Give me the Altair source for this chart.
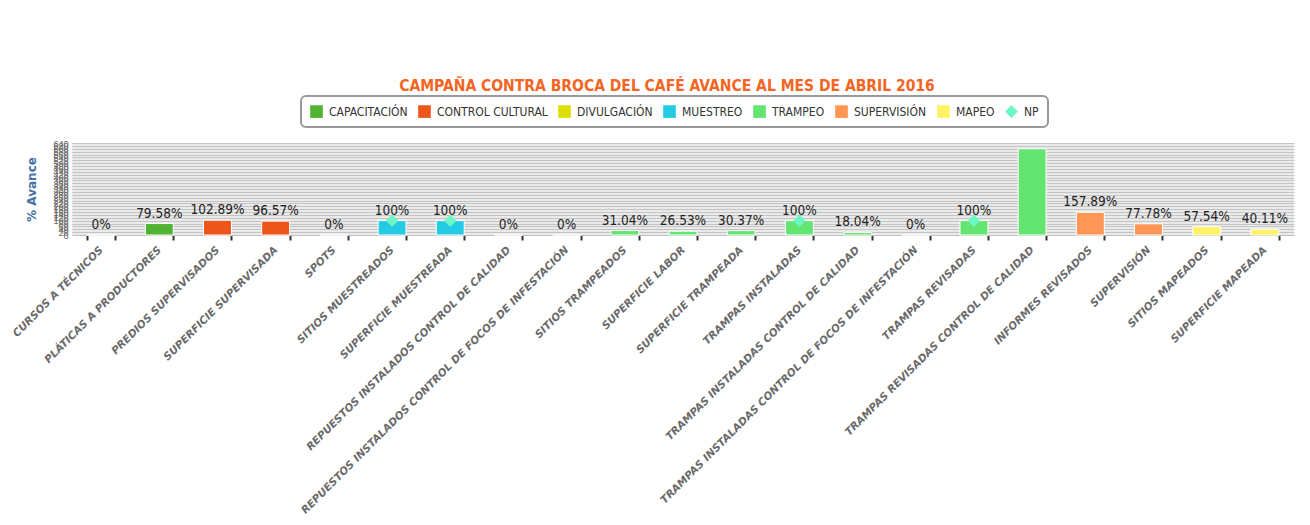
import altair as alt
import pandas as pd

categories = [
    "CURSOS A TÉCNICOS", "PLÁTICAS A PRODUCTORES", "PREDIOS SUPERVISADOS",
    "SUPERFICIE SUPERVISADA", "SPOTS", "SITIOS MUESTREADOS", "SUPERFICIE MUESTREADA",
    "REPUESTOS INSTALADOS CONTROL DE CALIDAD",
    "REPUESTOS INSTALADOS CONTROL DE FOCOS DE INFESTACIÓN",
    "SITIOS TRAMPEADOS", "SUPERFICIE LABOR", "SUPERFICIE TRAMPEADA",
    "TRAMPAS INSTALADAS", "TRAMPAS INSTALADAS CONTROL DE CALIDAD",
    "TRAMPAS INSTALADAS CONTROL DE FOCOS DE INFESTACIÓN", "TRAMPAS REVISADAS",
    "TRAMPAS REVISADAS CONTROL DE CALIDAD", "INFORMES REVISADOS", "SUPERVISIÓN",
    "SITIOS MAPEADOS", "SUPERFICIE MAPEADA",
]
series = [
    "CAPACITACIÓN", "CAPACITACIÓN", "CONTROL CULTURAL", "CONTROL CULTURAL",
    "DIVULGACIÓN", "MUESTREO", "MUESTREO", "TRAMPEO", "TRAMPEO", "TRAMPEO",
    "TRAMPEO", "TRAMPEO", "TRAMPEO", "TRAMPEO", "TRAMPEO", "TRAMPEO", "TRAMPEO",
    "SUPERVISIÓN", "SUPERVISIÓN", "MAPEO", "MAPEO",
]
values = [0, 79.58, 102.89, 96.57, 0, 100, 100, 0, 0, 31.04, 26.53, 30.37,
          100, 18.04, 0, 100, 600, 157.89, 77.78, 57.54, 40.11]
np_values = [None, None, None, None, None, 100, 100, None, None, None, None,
             None, 100, None, None, 100, None, None, None, None, None]

series_names = ["CAPACITACIÓN", "CONTROL CULTURAL", "DIVULGACIÓN", "MUESTREO",
                "TRAMPEO", "SUPERVISIÓN", "MAPEO", "NP"]
series_colors = ["#50B432", "#ED561B", "#DDDF00", "#24CBE5", "#64E572",
                 "#FF9655", "#FFF263", "#6AF9C4"]
series_shapes = ["square"] * 7 + ["diamond"]
y_ticks = list(range(0, 641, 20))


def fmt(v):
    if v > 500:
        return ""
    s = f"{v:.2f}".rstrip("0").rstrip(".")
    return s + "%"


df = pd.DataFrame({"cat": categories, "serie": series, "value": values,
                   "lbl": [fmt(v) for v in values]})
df_np = pd.DataFrame({"cat": categories, "np": np_values})
df_np = df_np.dropna()
df_np["serie"] = "NP"

FONT = "'Liberation Sans Narrow', 'DejaVu Sans Condensed', Roboto, sans-serif"

xaxis = alt.Axis(labelAngle=-45, labelAlign="right", labelBaseline="middle",
                 labelFont="DejaVu Sans", labelFontSize=10.5,
                 labelFontWeight="bold", labelFontStyle="italic",
                 labelColor="#6a6a6a", labelPadding=8, labelLimit=400,
                 tickBand="extent", tickColor="#333333", tickWidth=2,
                 tickSize=5, domainColor="#c0c0c0", grid=False)
xscale = alt.Scale(paddingInner=0.52, paddingOuter=0.26)

yaxis = alt.Axis(values=y_ticks, labelOverlap=False, labelFontSize=9,
                 labelColor="#666666", ticks=False, domain=False,
                 labelPadding=4, gridColor="#c4c4c4", gridWidth=1,
                 titleFont="DejaVu Sans", titleFontSize=12,
                 titleFontWeight="bold", titleColor="#4572A7",
                 titlePadding=14)
yscale = alt.Scale(domain=[0, 640], nice=False)

color = alt.Color("serie:N", title=None,
                  scale=alt.Scale(domain=series_names, range=series_colors),
                  legend=alt.Legend(orient="none", direction="horizontal",
                                    legendX=229, legendY=-47,
                                    labelFont=FONT, labelFontSize=12,
                                    labelColor="#333333", symbolSize=160,
                                    symbolStrokeWidth=0, columnPadding=10,
                                    symbolOffset=0, labelOffset=6,
                                    strokeColor="#999999",
                                    cornerRadius=5, padding=9, columns=8))

bars = alt.Chart(df).mark_bar(stroke="white", strokeWidth=1).encode(
    x=alt.X("cat:N", sort=categories, title=None, scale=xscale, axis=xaxis),
    y=alt.Y("value:Q", title="% Avance", scale=yscale, axis=yaxis),
    color=color,
)

labels = alt.Chart(df).mark_text(font=FONT, fontSize=13.5, color="#222222",
                                 baseline="bottom", dy=-3).encode(
    x=alt.X("cat:N", sort=categories, title=None, scale=xscale, axis=xaxis),
    y=alt.Y("value:Q", title="% Avance", scale=yscale, axis=yaxis),
    text="lbl:N",
)

points = alt.Chart(df_np).mark_point(filled=True, opacity=1, size=150).encode(
    x=alt.X("cat:N", sort=categories, title=None, scale=xscale, axis=xaxis),
    y=alt.Y("np:Q", title="% Avance", scale=yscale, axis=yaxis),
    color=alt.Color("serie:N"),
    shape=alt.Shape("serie:N", scale=alt.Scale(domain=series_names,
                                               range=series_shapes),
                    legend=None),
)

chart = alt.layer(bars, labels, points).properties(
    width=1222, height=92,
    autosize=alt.AutoSizeParams(type="none"),
    padding={"left": 64, "top": 135, "right": 8, "bottom": 280},
    title=alt.TitleParams("CAMPAÑA CONTRA BROCA DEL CAFÉ AVANCE AL MES DE ABRIL 2016",
                          font=FONT, fontSize=15.5, fontWeight="bold",
                          color="#F26522", anchor="middle", dx=-16, offset=1),
).configure_view(fill="#eaeaea", stroke=None).configure_legend(strokeWidth=2)

chart.save("out.html", embed_options={"renderer": "svg", "actions": False})
